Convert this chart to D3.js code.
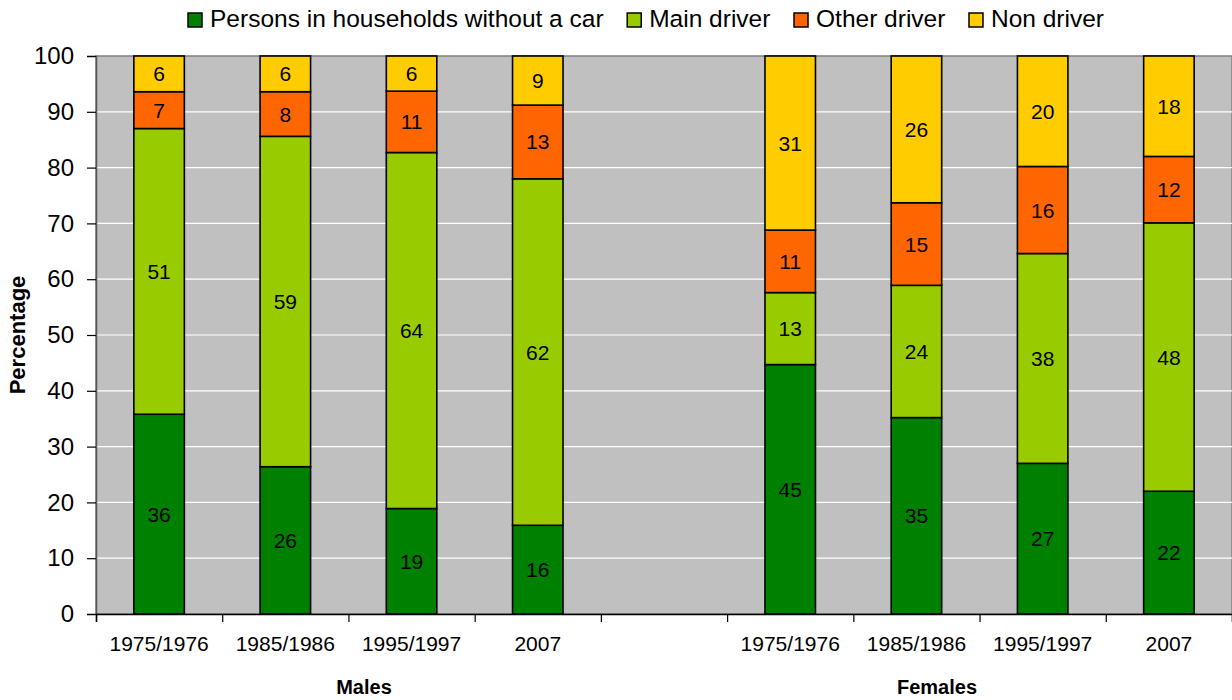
<!DOCTYPE html>
<html>
<head>
<meta charset="utf-8">
<script src="https://d3js.org/d3.v7.min.js"></script>
<style>
  body { margin: 0; background: #fff; }
  text { font-family: "Liberation Sans", Arial, sans-serif; fill: #000; }
</style>
</head>
<body>
<div id="chart"></div>
<script>
// slot labels (empty slot = gap between males and females)
const categories = ["1975/1976", "1985/1986", "1995/1997", "2007", "", "1975/1976", "1985/1986", "1995/1997", "2007"];
const seriesNames = ["Persons in households without a car", "Main driver", "Other driver", "Non driver"];
const colors = ["#008000", "#99CC00", "#FF6600", "#FFCC00"];

// percentages
const noCar = [35.8, 26.4, 18.9, 15.9, null, 44.7, 35.2, 27.0, 22.0];
const mainDriver = [51.2, 59.2, 63.8, 62.1, null, 12.9, 23.7, 37.6, 48.1];
const otherDriver = [6.6, 8.0, 11.0, 13.2, null, 11.2, 14.8, 15.6, 11.9];
const nonDriver = [6.4, 6.4, 6.3, 8.8, null, 31.2, 26.3, 19.8, 18.0];

const yTicks = [0, 10, 20, 30, 40, 50, 60, 70, 80, 90, 100];
const groupTitles = ["Males", "Females"];

const W = 1232, H = 700;
const m = { left: 96, right: 0, top: 56, bottom: 86 };

const svg = d3.select("#chart").append("svg")
  .attr("width", W).attr("height", H);

const keys = ["noCar", "mainDriver", "otherDriver", "nonDriver"];
const rows = categories.map((c, i) => ({
  i: i, cat: c,
  noCar: noCar[i] || 0, mainDriver: mainDriver[i] || 0,
  otherDriver: otherDriver[i] || 0, nonDriver: nonDriver[i] || 0
})).filter(d => d.cat !== "");

const x = d3.scaleBand()
  .domain(d3.range(categories.length))
  .range([m.left, W - m.right])
  .paddingInner(0.6).paddingOuter(0.3);

const xb = d3.scaleLinear().domain([0, categories.length]).range([m.left, W - m.right]);

const y = d3.scaleLinear().domain([0, 100]).range([H - m.bottom, m.top]);

// plot background
svg.append("rect")
  .attr("x", m.left).attr("y", m.top)
  .attr("width", W - m.right - m.left).attr("height", y(0) - y(100))
  .attr("fill", "#C0C0C0").attr("stroke", "#808080").attr("stroke-width", 1.5);

// grid
svg.append("g").selectAll("line")
  .data(yTicks.filter(t => t > 0 && t < 100))
  .join("line")
  .attr("x1", m.left).attr("x2", W - m.right)
  .attr("y1", d => y(d)).attr("y2", d => y(d))
  .attr("stroke", "#fff").attr("stroke-width", 1.2);

// bars
const stacked = d3.stack().keys(keys)(rows);
const layer = svg.append("g").selectAll("g")
  .data(stacked).join("g")
  .attr("fill", (d, k) => colors[k]);

layer.selectAll("rect")
  .data(d => d).join("rect")
  .attr("x", d => x(d.data.i))
  .attr("width", x.bandwidth())
  .attr("y", d => y(d[1]))
  .attr("height", d => y(d[0]) - y(d[1]))
  .attr("stroke", "#000").attr("stroke-width", 1.6);

// value labels
layer.selectAll("text")
  .data(d => d).join("text")
  .attr("x", d => x(d.data.i) + x.bandwidth() / 2)
  .attr("y", d => (y(d[0]) + y(d[1])) / 2)
  .attr("text-anchor", "middle")
  .attr("dominant-baseline", "central")
  .style("font-size", "21px")
  .text(d => Math.round(d[1] - d[0]));

// y axis
const yAxis = svg.append("g")
  .attr("transform", `translate(${m.left},0)`)
  .call(d3.axisLeft(y).tickValues(yTicks).tickSize(9).tickPadding(13));
yAxis.select(".domain").attr("stroke", "#555").attr("stroke-width", 1.5);
yAxis.selectAll(".tick line").attr("stroke", "#000").attr("stroke-width", 1.2);
yAxis.selectAll("text").style("font-size", "24px").attr("font-family", null);

// x axis: tick marks at slot boundaries, labels in slots
const xAxis = svg.append("g")
  .attr("transform", `translate(0,${y(0)})`)
  .call(d3.axisBottom(xb).tickValues(d3.range(categories.length + 1)).tickSize(8).tickFormat(""));
xAxis.select(".domain").attr("stroke", "#000").attr("stroke-width", 1.5);
xAxis.selectAll(".tick line").attr("stroke", "#000").attr("stroke-width", 1.2);

const xLab = svg.append("g")
  .attr("transform", `translate(0,${y(0)})`)
  .call(d3.axisBottom(x).tickSize(0).tickPadding(22).tickFormat(i => categories[i]));
xLab.select(".domain").remove();
xLab.selectAll("text").style("font-size", "21px").attr("font-family", null);

// group titles
svg.append("text").attr("x", 364).attr("y", 694)
  .attr("text-anchor", "middle").style("font-size", "20px").style("font-weight", "bold")
  .text(groupTitles[0]);
svg.append("text").attr("x", 937).attr("y", 694)
  .attr("text-anchor", "middle").style("font-size", "20px").style("font-weight", "bold")
  .text(groupTitles[1]);

// y title
svg.append("text")
  .attr("transform", `translate(25,${(y(0) + y(100)) / 2}) rotate(-90)`)
  .attr("text-anchor", "middle").style("font-size", "22px").style("font-weight", "bold")
  .text("Percentage");

// legend: spread evenly between 188 and 1104
const legend = svg.append("g");
const items = seriesNames.map((name, k) => {
  const g = legend.append("g");
  g.append("rect").attr("x", 0).attr("y", 13).attr("width", 14).attr("height", 14)
    .attr("fill", colors[k]).attr("stroke", "#000").attr("stroke-width", 1.5);
  const t = g.append("text").attr("x", 22).attr("y", 27)
    .style("font-size", "24.5px").text(name);
  return { g: g, w: 22 + t.node().getComputedTextLength() };
});
const totalW = d3.sum(items, d => d.w);
const gap = (1104 - 188 - totalW) / (items.length - 1);
let lx = 188;
items.forEach(it => {
  it.g.attr("transform", `translate(${lx},0)`);
  lx += it.w + gap;
});
</script>
</body>
</html>
